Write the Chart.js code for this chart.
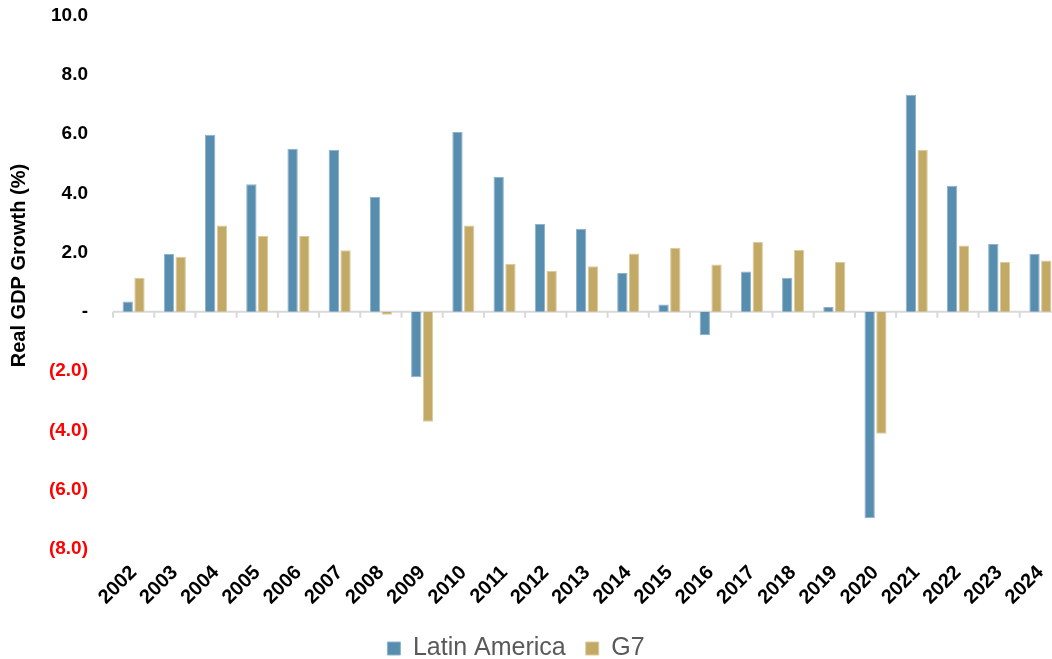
<!DOCTYPE html>
<html>
<head>
<meta charset="utf-8">
<script src="https://cdn.jsdelivr.net/npm/chart.js@4.4.1/dist/chart.umd.min.js"></script>
<style>
  html, body { margin: 0; padding: 0; background: #fff; overflow: hidden; }
  #wrap { width: 1062px; height: 659px; overflow: hidden; }
  #myChart { display: block; margin-top: -21px; }
</style>
</head>
<body>
<div id="wrap"><canvas id="myChart" width="1062" height="680"></canvas></div>
<script>
const years = ["2002", "2003", "2004", "2005", "2006", "2007", "2008", "2009", "2010", "2011", "2012",
  "2013", "2014", "2015", "2016", "2017", "2018", "2019", "2020", "2021", "2022", "2023", "2024"];

const latinAmerica = [0.35, 1.95, 5.97, 4.30, 5.50, 5.47, 3.87, -2.21, 6.07, 4.55, 2.96,
  2.80, 1.31, 0.25, -0.78, 1.36, 1.15, 0.16, -6.96, 7.32, 4.25, 2.29, 1.96];

const g7 = [1.15, 1.86, 2.91, 2.56, 2.56, 2.08, -0.1, -3.71, 2.91, 1.62, 1.39,
  1.54, 1.97, 2.16, 1.60, 2.36, 2.09, 1.68, -4.11, 5.47, 2.24, 1.68, 1.73];

const font = "'Liberation Sans', Arial, sans-serif";

function fmtTick(v) {
  if (v === 0) return "-";
  if (v < 0) return "(" + Math.abs(v).toFixed(1) + ")";
  return v.toFixed(1);
}

// grey axis line at zero, with short tick marks between the years
const zeroLine = {
  id: "zeroLine",
  beforeDatasetsDraw(chart) {
    const { ctx, chartArea, scales } = chart;
    const y0 = scales.y.getPixelForValue(0);
    const x = scales.x;
    const step = x.getPixelForValue(1) - x.getPixelForValue(0);
    ctx.save();
    ctx.strokeStyle = "#d9d9d9";
    ctx.lineWidth = 2;
    ctx.beginPath();
    ctx.moveTo(chartArea.left, y0);
    ctx.lineTo(chartArea.right, y0);
    for (let i = 0; i <= years.length; i++) {
      const px = x.getPixelForValue(i) - step / 2;
      ctx.moveTo(px, y0);
      ctx.lineTo(px, y0 + 6);
    }
    ctx.stroke();
    ctx.restore();
  },
};

const ctx = "myChart";
const myChart = new Chart(ctx, {
  type: "bar",
  data: {
    labels: years,
    datasets: [
      {
        label: "Latin America",
        data: latinAmerica,
        backgroundColor: "#578dae",
        borderColor: "#8fb3c9",
        borderWidth: 1,
        categoryPercentage: 0.57,
        barPercentage: 0.88,
      },
      {
        label: "G7",
        data: g7,
        backgroundColor: "#c2aa66",
        borderColor: "#dccb9a",
        borderWidth: 1,
        categoryPercentage: 0.57,
        barPercentage: 0.88,
      },
    ],
  },
  plugins: [zeroLine],
  options: {
    responsive: false,
    animation: false,
    layout: { padding: { top: 0, right: 1, left: -29, bottom: -12 } },
    plugins: {
      tooltip: { enabled: false },
      legend: {
        position: "bottom",
        labels: {
          boxWidth: 13,
          boxHeight: 13,
          padding: 20,
          color: "#595959",
          font: { family: font, size: 25 },
        },
      },
    },
    scales: {
      x: {
        grid: { display: false },
        border: { display: false },
        afterFit: (scale) => { scale.height = 67; },
        ticks: {
          minRotation: 45,
          maxRotation: 45,
          padding: 4,
          color: "#000",
          font: { family: font, size: 20, weight: "bold" },
        },
      },
      y: {
        min: -8,
        max: 10,
        afterFit: (scale) => { scale.width = 142; },
        ticks: {
          stepSize: 2,
          padding: 25,
          callback: (v) => fmtTick(v),
          color: (c) => (c.tick.value < 0 ? "#ff0000" : "#000"),
          font: { family: font, size: 19, weight: "bold" },
        },
        grid: { display: false, drawTicks: false },
        border: { display: false },
        title: {
          display: true,
          text: "      Real GDP Growth (%)",
          color: "#000",
          padding: { top: 36, bottom: 0 },
          font: { family: font, size: 20, weight: "bold" },
        },
      },
    },
  },
});
</script>
</body>
</html>
